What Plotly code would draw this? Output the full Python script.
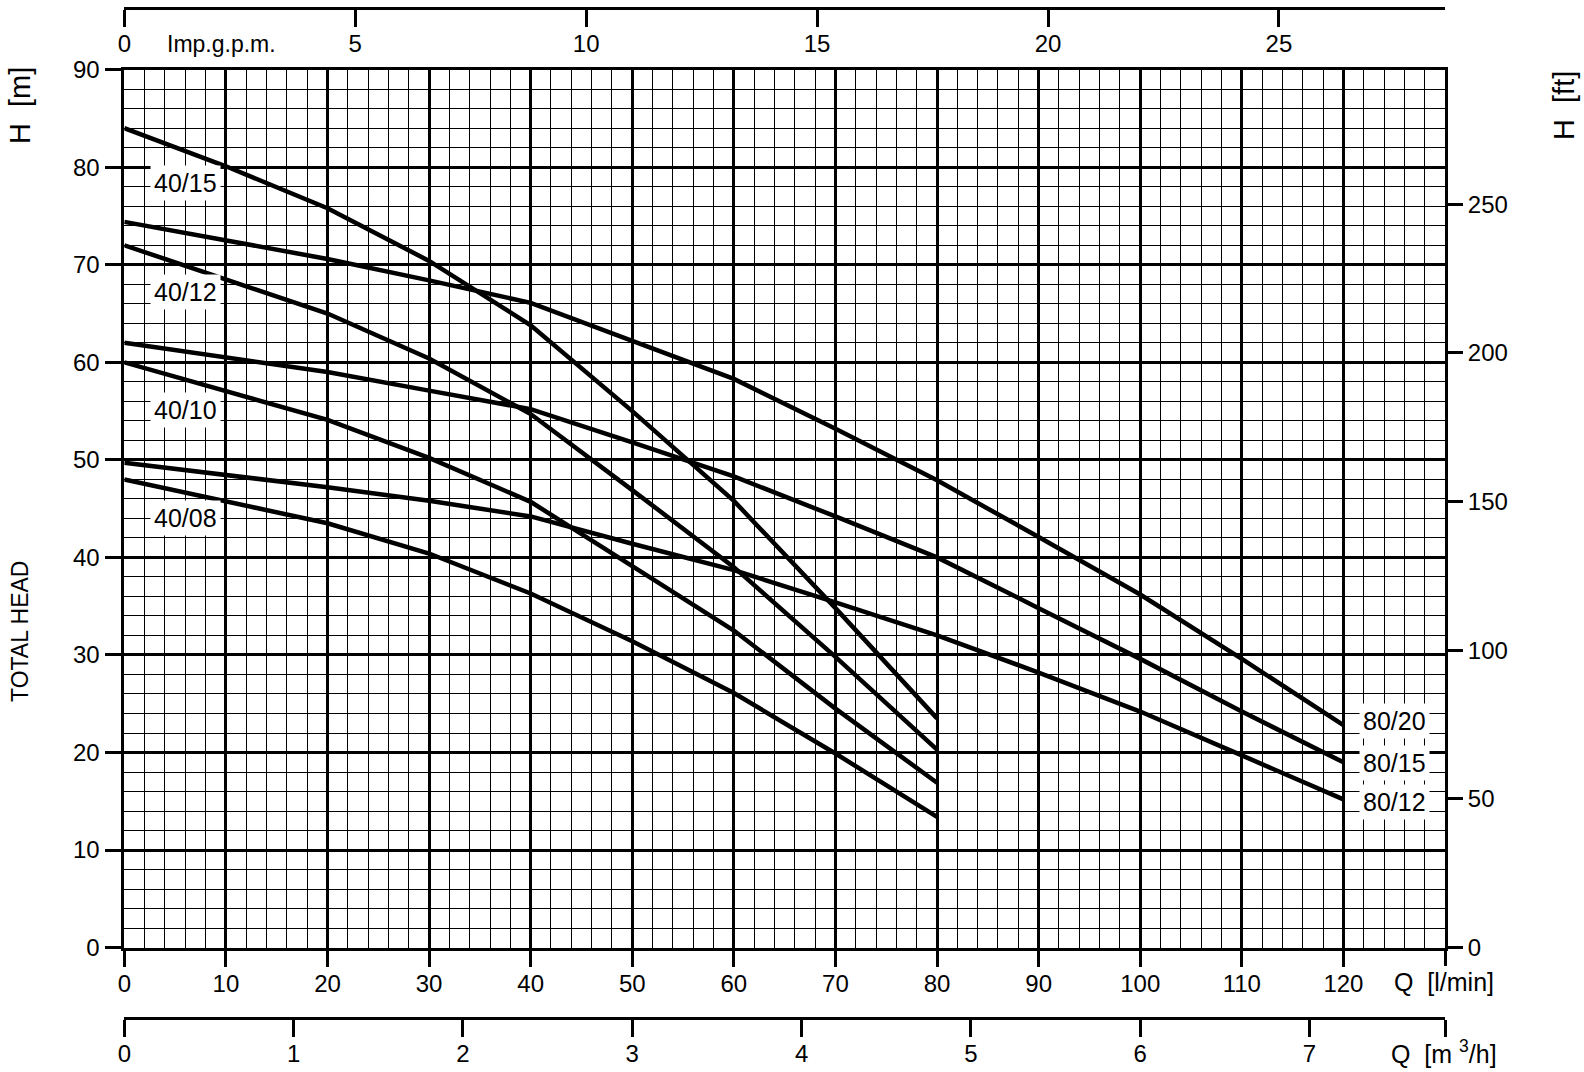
import plotly.graph_objects as go

W, H = 1584, 1072
# plot area (pixels)
PL, PR, PT, PB = 124.3, 1445.0, 69.7, 947.6

LPM_PER_GPM = 4.54609
LPM_PER_M3H = 1000.0 / 60.0
M_PER_FT = 0.3048

Q_MAX = 130
H_MAX = 90

# ---- data (Q in l/min, H in m) ----
q40 = [0, 10, 20, 30, 40, 50, 60, 70, 80]
h_40_15 = [84.0, 80.1, 75.8, 70.4, 63.8, 55.0, 45.8, 34.8, 23.5]
h_40_12 = [72.0, 68.5, 65.0, 60.4, 54.7, 46.9, 39.0, 29.8, 20.3]
h_40_10 = [60.0, 57.1, 54.1, 50.2, 45.7, 39.1, 32.5, 24.5, 16.9]
h_40_08 = [48.0, 45.8, 43.5, 40.4, 36.3, 31.4, 26.1, 19.9, 13.4]

q80 = [0, 10, 20, 30, 40, 50, 60, 70, 80, 90, 100, 110, 120]
h_80_20 = [74.4, 72.5, 70.6, 68.4, 66.1, 62.2, 58.3, 53.2, 47.9, 42.1, 36.2, 29.6, 22.8]
h_80_15 = [62.0, 60.5, 59.0, 57.1, 55.2, 51.8, 48.3, 44.2, 40.0, 34.8, 29.6, 24.2, 19.0]
h_80_12 = [49.7, 48.5, 47.2, 45.8, 44.2, 41.4, 38.7, 35.4, 32.0, 28.2, 24.2, 19.7, 15.2]

curve_names = ["40/15", "40/12", "40/10", "40/08", "80/20", "80/15", "80/12"]
curve_q = [q40, q40, q40, q40, q80, q80, q80]
curve_h = [h_40_15, h_40_12, h_40_10, h_40_08, h_80_20, h_80_15, h_80_12]
label_q = [6, 6, 6, 6, 125, 125, 125]
label_h = [78.4, 67.2, 55.1, 44.0, 23.2, 18.9, 14.9]

lpm_ticks = list(range(0, 121, 10))
m_ticks = list(range(0, 91, 10))
ft_ticks = [0, 50, 100, 150, 200, 250]
gpm_ticks = [0, 5, 10, 15, 20, 25]
m3h_ticks = [0, 1, 2, 3, 4, 5, 6, 7]

FONT = "Liberation Sans, Arial, sans-serif"
NARROW = "Liberation Sans Narrow, Arial Narrow, Liberation Sans, sans-serif"
tickfont = dict(family=FONT, size=24, color="black")

fig = go.Figure()
for name, q, h in zip(curve_names, curve_q, curve_h):
    fig.add_trace(go.Scatter(x=q, y=h, mode="lines", name=name,
                             line=dict(color="black", width=4.5),
                             showlegend=False, hoverinfo="skip"))

# invisible anchors for secondary axes
for xa, ya in (("x2", "y"), ("x3", "y"), ("x4", "y"), ("x", "y2")):
    fig.add_trace(go.Scatter(x=[0], y=[0], xaxis=xa, yaxis=ya, mode="markers",
                             marker=dict(opacity=0), showlegend=False, hoverinfo="skip"))

xdom = [PL / W, PR / W]
ydom = [(H - PB) / H, (H - PT) / H]

tick_common = dict(ticks="outside", ticklen=17, tickwidth=2.5, tickcolor="black",
                   tickfont=tickfont, zeroline=False, fixedrange=True, automargin=False)

fig.update_layout(
    width=W, height=H, autosize=False,
    margin=dict(l=0, r=0, t=0, b=0, pad=0),
    paper_bgcolor="white", plot_bgcolor="white",
    font=dict(family=FONT, color="black"),
    xaxis=dict(domain=xdom, range=[0, Q_MAX], anchor="y",
               tickmode="array", tickvals=lpm_ticks, ticklabelstandoff=-4,
               showgrid=True, gridcolor="black", gridwidth=2.6,
               minor=dict(dtick=2, tick0=0, showgrid=True, gridcolor="black",
                          gridwidth=1.3, ticks=""),
               showline=True, linecolor="black", linewidth=2.6, mirror=True,
               **tick_common),
    yaxis=dict(domain=ydom, range=[0, H_MAX], anchor="x",
               tickmode="array", tickvals=m_ticks,
               showgrid=True, gridcolor="black", gridwidth=2.6,
               minor=dict(dtick=2, tick0=0, showgrid=True, gridcolor="black",
                          gridwidth=1.3, ticks=""),
               showline=True, linecolor="black", linewidth=2.6, mirror=True,
               **tick_common),
    yaxis2=dict(overlaying="y", side="right", anchor="x",
                range=[0, H_MAX / M_PER_FT],
                tickmode="array", tickvals=ft_ticks,
                showgrid=False, showline=False, **tick_common),
    xaxis2=dict(overlaying="x", anchor="free", position=(H - 8) / H, side="bottom",
                range=[0, Q_MAX / LPM_PER_GPM], ticklabelstandoff=-4,
                tickmode="array", tickvals=gpm_ticks, showgrid=False,
                showline=True, linecolor="black", linewidth=3, **tick_common),
    xaxis3=dict(overlaying="x", anchor="free", position=(H - 1018) / H, side="bottom",
                range=[0, Q_MAX / LPM_PER_M3H], ticklabelstandoff=-4,
                tickmode="array", tickvals=m3h_ticks, showgrid=False,
                minor=dict(tickmode="array", tickvals=[Q_MAX / LPM_PER_M3H],
                           ticks="outside", ticklen=17, tickwidth=2.5,
                           tickcolor="black", showgrid=False),
                showline=True, linecolor="black", linewidth=3, **tick_common),
    # end tick at Q_MAX on the l/min axis (no label)
    xaxis4=dict(overlaying="x", anchor="y", side="bottom", range=[0, Q_MAX],
                tickmode="array", tickvals=[Q_MAX], showticklabels=False,
                showgrid=False, showline=False, **tick_common),
)

ann = []
for name, xq, yh in zip(curve_names, label_q, label_h):
    ann.append(dict(x=xq, y=yh, xref="x", yref="y", text=name, showarrow=False,
                    xanchor="center", yanchor="middle",
                    font=dict(family=FONT, size=25, color="black"),
                    bgcolor="white", borderpad=3))

def paper_text(text, xpx, ypx, size, family=FONT, angle=0, xref="paper", xval=None):
    return dict(x=(xpx / W) if xval is None else xval, y=(H - ypx) / H,
                xref=xref, yref="paper", text=text, showarrow=False,
                xanchor="center", yanchor="middle", textangle=angle,
                font=dict(family=family, size=size, color="black"))

ann.append(paper_text("Imp.g.p.m.", 0, 44, 23, xref="x2", xval=2.107))
ann.append(paper_text("Q  [l/min]", 1444, 982, 25))
ann.append(paper_text("Q  [m <sup>3</sup>/h]", 1444, 1052, 25))
ann.append(paper_text("H  [m]", 20, 106, 29, family=NARROW, angle=-90))
ann.append(paper_text("TOTAL HEAD", 20, 632, 23, family=NARROW, angle=-90))
ann.append(paper_text("H  [ft]", 1564, 106, 29, family=NARROW, angle=-90))
fig.update_layout(annotations=ann)

fig.write_html("out.html", config={"displayModeBar": False},
               post_script="document.body.style.margin='0';document.body.style.overflow='hidden';")
